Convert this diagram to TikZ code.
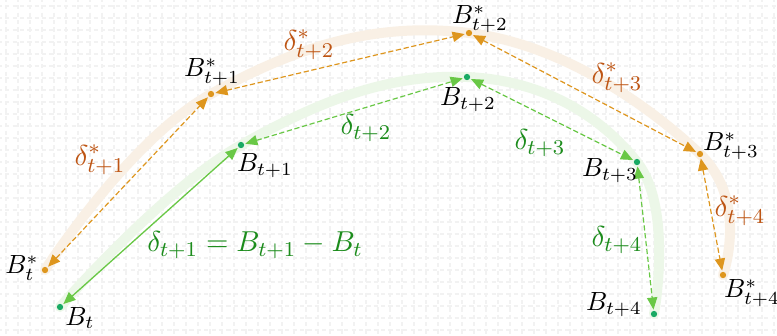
\documentclass[tikz,border=0pt]{standalone}
\usetikzlibrary{arrows.meta}
\definecolor{odot}{RGB}{222,150,30}
\definecolor{olab}{RGB}{190,85,20}
\definecolor{obandc}{RGB}{249,240,229}
\definecolor{gdot}{RGB}{25,170,100}
\definecolor{garc}{RGB}{105,200,70}
\definecolor{glab}{RGB}{28,140,28}
\definecolor{gbandc}{RGB}{236,247,232}
\begin{document}
\begin{tikzpicture}[x=0.38pt,y=-0.38pt,
  gridst/.style={draw=black!5,line width=0.45pt,dash pattern=on 1.6pt off 1.2pt,dash phase=0.8pt},
  dotpt/.style={circle,inner sep=0pt,minimum size=2.4pt},
  odotst/.style={dotpt,fill=odot},
  gdotst/.style={dotpt,fill=gdot},
  lbl/.style={inner sep=0pt},
  tip/.style={{Triangle[length=4.6pt,width=3.9pt]}-{Triangle[length=4.6pt,width=3.9pt]}},
  oarrow/.style={draw=odot,line width=0.45pt,dash pattern=on 2pt off 1pt,tip,shorten <=1.7pt,shorten >=1.7pt},
  garrow/.style={draw=garc,line width=0.45pt,dash pattern=on 2pt off 1pt,tip,shorten <=1.7pt,shorten >=1.7pt},
  gsolid/.style={draw=garc,line width=0.5pt,tip,shorten <=1.7pt,shorten >=1.7pt},
  oband/.style={draw=obandc,line width=3.8pt,line cap=round},
  gband/.style={draw=gbandc,line width=3.8pt,line cap=round},
  olabel/.style={lbl,text=olab},
  glabel/.style={lbl,text=glab}]
\useasboundingbox[fill=white] (0,0) rectangle (777,335);
% faint background grid
\foreach \x in {6,18,...,774} \draw[gridst] (\x,0) -- (\x,335);
\foreach \y in {6,18,...,330} \draw[gridst] (0,\y) -- (777,\y);
% points
\coordinate (s0) at (45,270);
\coordinate (s1) at (211,94);
\coordinate (s2) at (469,33);
\coordinate (s3) at (700,154);
\coordinate (s4) at (723,275);
\coordinate (g0) at (60,307);
\coordinate (g1) at (241,145);
\coordinate (g2) at (467,77);
\coordinate (g3) at (637,162);
\coordinate (g4) at (654,314);
% bands
\draw[oband] plot[smooth,tension=0.7] coordinates {(s0) (s1) (s2) (s3) (s4)};
\draw[gband] plot[smooth,tension=0.7] coordinates {(g0) (g1) (g2) (g3) (g4)};
% arrows
\draw[oarrow] (s0) -- (s1);
\draw[oarrow] (s1) -- (s2);
\draw[oarrow] (s2) -- (s3);
\draw[oarrow] (s3) -- (s4);
\draw[gsolid] (g0) -- (g1);
\draw[garrow] (g1) -- (g2);
\draw[garrow] (g2) -- (g3);
\draw[garrow] (g3) -- (g4);
% dots
\foreach \p in {s0,s1,s2,s3,s4} \node[odotst] (d\p) at (\p) {};
\foreach \p in {g0,g1,g2,g3,g4} \node[gdotst] (d\p) at (\p) {};
% point labels
\node[lbl] (ls0) at (22,268) {$B_t^*$};
\node[lbl] (ls1) at (212,72) {$B_{t+1}^*$};
\node[lbl] (ls2) at (480,19) {$B_{t+2}^*$};
\node[lbl] (ls3) at (731,146) {$B_{t+3}^*$};
\node[lbl] (ls4) at (752,293) {$B_{t+4}^*$};
\node[lbl] (lg0) at (80,318) {$B_t$};
\node[lbl] (lg1) at (265,166) {$B_{t+1}$};
\node[lbl] (lg2) at (468,100) {$B_{t+2}$};
\node[lbl] (lg3) at (610,171) {$B_{t+3}$};
\node[lbl] (lg4) at (614,305) {$B_{t+4}$};
% delta labels
\node[olabel] (e1) at (100,160) {\fontsize{11}{13}\selectfont$\delta_{t+1}^*$};
\node[olabel] (e2) at (309,45) {\fontsize{11}{13}\selectfont$\delta_{t+2}^*$};
\node[olabel] (e3) at (617,78) {\fontsize{11}{13}\selectfont$\delta_{t+3}^*$};
\node[olabel] (e4) at (740,211) {\fontsize{11}{13}\selectfont$\delta_{t+4}^*$};
\node[glabel] (f1) at (255,245) {\fontsize{11}{13}\selectfont$\delta_{t+1} = B_{t+1} - B_t$};
\node[glabel] (f2) at (366,128) {\fontsize{11}{13}\selectfont$\delta_{t+2}$};
\node[glabel] (f3) at (540,143) {\fontsize{11}{13}\selectfont$\delta_{t+3}$};
\node[glabel] (f4) at (617,240) {\fontsize{11}{13}\selectfont$\delta_{t+4}$};
\end{tikzpicture}
\end{document}
